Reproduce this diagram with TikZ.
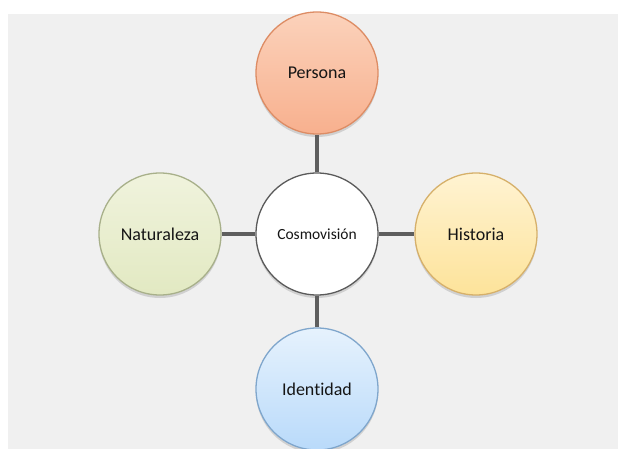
\documentclass[tikz,border=0pt]{standalone}
\usepackage{fontspec}
\setmainfont{Carlito}[Ligatures={NoCommon}]
\usetikzlibrary{shadows}
\definecolor{bgc}{HTML}{F0F0F0}
\definecolor{linec}{HTML}{5E5E5E}
\definecolor{txt}{HTML}{151515}
\definecolor{perT}{HTML}{FBD2BB}
\definecolor{perB}{HTML}{F8B08E}
\definecolor{perD}{HTML}{DD8C64}
\definecolor{hisT}{HTML}{FFF3D2}
\definecolor{hisB}{HTML}{FDE39A}
\definecolor{hisD}{HTML}{D6B06A}
\definecolor{natT}{HTML}{F0F3DD}
\definecolor{natB}{HTML}{E2E9C2}
\definecolor{natD}{HTML}{A8B08A}
\definecolor{ideT}{HTML}{E6F2FD}
\definecolor{ideB}{HTML}{B9DAFA}
\definecolor{ideD}{HTML}{7FA6CC}
\definecolor{cenD}{HTML}{5A5A5A}
\tikzset{
  bubble/.style={circle, minimum size=122pt, inner sep=0pt, line width=1.3pt,
    text=txt, font=\fontsize{18}{21}\selectfont,
    drop shadow={shadow xshift=0pt, shadow yshift=-3pt, opacity=0.13, fill=black}},
  link/.style={draw=linec, line width=4pt}
}
\begin{document}
\begin{tikzpicture}[x=1pt,y=-1pt]
\useasboundingbox (0,0) rectangle (618,449);
\clip (0,0) rectangle (618,449);
\fill[white] (0,0) rectangle (618,449);
\fill[bgc] (8,14) rectangle (618,449);
\node[bubble, draw=perD, top color=perT, bottom color=perB] (per) at (317,73) {Persona};
\node[bubble, draw=ideD, top color=ideT, bottom color=ideB] (ide) at (317,389) {Identidad};
\node[bubble, draw=natD, top color=natT, bottom color=natB] (nat) at (160,234) {Naturaleza};
\node[bubble, draw=hisD, top color=hisT, bottom color=hisB] (his) at (476,234) {Historia};
\node[bubble, draw=cenD, fill=white, font=\fontsize{15.5}{18}\selectfont] (cen) at (317,234) {Cosmovisión};
\draw[link] (cen) -- (per);
\draw[link] (cen) -- (ide);
\draw[link] (cen) -- (nat);
\draw[link] (cen) -- (his);
\end{tikzpicture}
\end{document}
